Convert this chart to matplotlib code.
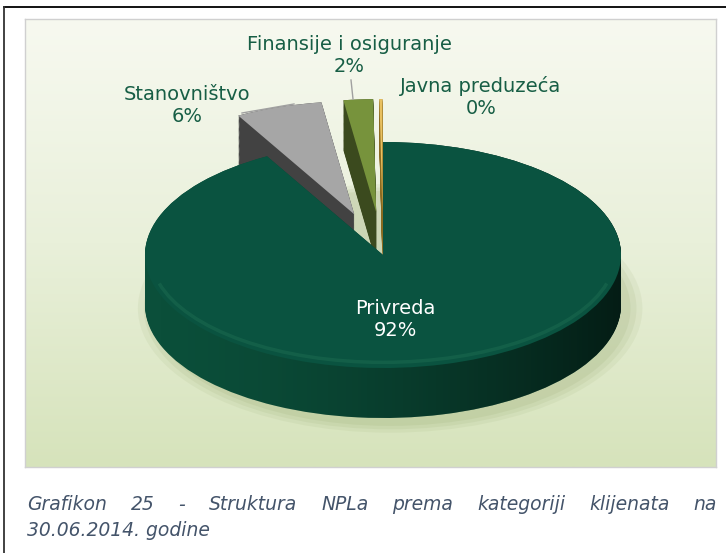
import numpy as np
import matplotlib.pyplot as plt
from matplotlib.colors import LinearSegmentedColormap
from matplotlib.patches import Ellipse, Arc, PathPatch
from matplotlib.path import Path
from matplotlib.lines import Line2D

#%% data
categories = ['Privreda', 'Stanovništvo', 'Finansije i osiguranje', 'Javna preduzeća']
shares = [91.9, 5.9, 2.0, 0.2]          # % of NPL
pct_labels = ['92%', '6%', '2%', '0%']
caption_1 = 'Grafikon 25 - Struktura NPLa prema kategoriji klijenata na'
caption_2 = '30.06.2014. godine'

#%% styling
explode = [0.0, 0.38, 0.38, 0.38]
top_colors = ['#0a5340', '#a6a6a6', '#77933c', '#e8c060']
side_colors = ['#0b4f3a', '#424242', '#3b4a1e', '#8a6a20']
draw_order = [3, 2, 1, 0]               # back slices first, Privreda last
label_col = '#175e45'
W, H = 726, 553

def px_box(x0, y0, x1, y1):
    # pixel box (origin top-left) -> figure fraction rect
    return [x0 / W, 1 - y1 / H, (x1 - x0) / W, (y1 - y0) / H]

plt.rcParams['font.family'] = 'DejaVu Sans'
fig = plt.figure(figsize=(W / 100, H / 100), dpi=100)

# outer frame (top + left line only)
fig.add_artist(Line2D([4 / W, 1], [1 - 7 / H, 1 - 7 / H], color='black', lw=1.3))
fig.add_artist(Line2D([4 / W, 4 / W], [0, 1 - 7 / H], color='#333333', lw=1.3))

#%% chart area with gradient
bg = fig.add_axes(px_box(25, 19, 716, 467))
bg_cmap = LinearSegmentedColormap.from_list('bg', ['#f7f9f0', '#e9f0da', '#d6e3bb'])
bg.imshow(np.linspace(0, 1, 256).reshape(-1, 1), cmap=bg_cmap, aspect='auto',
          extent=(0, 1, 0, 1), origin='upper')
bg.set_xticks([]); bg.set_yticks([])
for s in bg.spines.values():
    s.set_color('#d0d0d0'); s.set_linewidth(1)

#%% 3D pie
cx, cy, rx, ry = 383, 255, 238, 113
depth = 50 / ry
ax = fig.add_axes(px_box(cx - 1.5 * rx, cy - 1.6 * ry, cx + 1.5 * rx, cy + 1.6 * ry))

# soft shadow
for k, a in enumerate([0.10, 0.12, 0.14]):
    sh = Ellipse((0.03, -depth - 0.03), 2.12 - 0.05 * k, 2.2 - 0.06 * k,
                 color='#94a66c', alpha=a, lw=0, zorder=0.5)
    ax.add_patch(sh)

rank = {s: r for r, s in enumerate(draw_order)}
layer_d = np.linspace(depth, 0, 45)
priv_paths = []
for j, d in enumerate(layer_d):
    wedges, _ = ax.pie(shares, explode=explode, colors=side_colors, startangle=90,
                       counterclock=False, center=(0, -d),
                       wedgeprops=dict(linewidth=0))
    for k, w in enumerate(wedges):
        w.set_zorder(10 * rank[k] + 1 + j * 0.01)
        w.set_clip_on(False)
    priv_paths.append(wedges[0].get_path())

tops, _ = ax.pie(shares, explode=explode, colors=top_colors, startangle=90,
                 counterclock=False, wedgeprops=dict(linewidth=0))
for k, w in enumerate(tops):
    w.set_zorder(10 * rank[k] + 5)
    w.set_clip_on(False)

# darken the side of Privreda to the right
side_clip = PathPatch(Path.make_compound_path(*priv_paths), transform=ax.transData,
                      facecolor='none', edgecolor='none')
ramp = np.zeros((2, 256, 4))
ramp[..., 3] = np.linspace(0, 1, 256) ** 1.6 * 0.65
img = ax.imshow(ramp, extent=(-1.02, 1.02, -1 - depth - 0.02, 1.02), aspect='auto',
                zorder=10 * rank[0] + 3)
img.set_clip_path(side_clip)

# soft bevel on the front rim
ax.add_patch(Arc((0, 0), 1.95, 1.9, theta1=195, theta2=345, color='#1f6f52',
                 lw=2.5, alpha=0.45, zorder=10 * rank[0] + 6))

ax.set_aspect('auto')
ax.set_xlim(-1.5, 1.5)
ax.set_ylim(-1.6, 1.6)
ax.axis('off')

#%% data labels
lab_pos = [(395, 320), (187, 105), (349, 56), (481, 97)]
lab_col = ['white', label_col, label_col, label_col]
for cat, pct, (x, y), c in zip(categories, pct_labels, lab_pos, lab_col):
    fig.text(x / W, 1 - y / H, cat + '\n' + pct, ha='center', va='center',
             fontsize=14, color=c, linespacing=1.2)

# leader lines
for xs, ys in [((242, 294), (113, 104)), ((351, 353), (80, 99))]:
    fig.add_artist(Line2D([x / W for x in xs], [1 - y / H for y in ys],
                          color='#a0a0a0', lw=1))

#%% caption (line 1 justified)
cap_kw = dict(fontsize=13.5, style='italic', color='#44546a', va='center', ha='left')
renderer = fig.canvas.get_renderer()
words = caption_1.split()
tw = []
for wd in words:
    t = fig.text(0, 0, wd, **cap_kw)
    tw.append(t.get_window_extent(renderer).width)
    t.remove()
x0, x1 = 27, 717
gap = (x1 - x0 - sum(tw)) / (len(words) - 1)
x = x0
for wd, wdt in zip(words, tw):
    fig.text(x / W, 1 - 505 / H, wd, **cap_kw)
    x += wdt + gap
fig.text(x0 / W, 1 - 530 / H, caption_2, **cap_kw)

fig.savefig('out.png', dpi=100)
